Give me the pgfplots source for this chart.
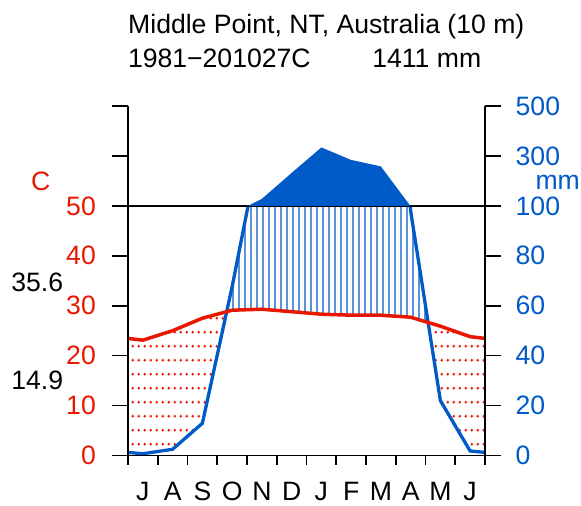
\documentclass[border=0pt]{standalone}
\usepackage{fontspec}
\setmainfont{Liberation Sans}
\usepackage{pgfplots}
\usepackage{pgfplotstable}
\pgfplotsset{compat=1.18}
\usepgfplotslibrary{fillbetween}
\usetikzlibrary{patterns}
\definecolor{tcol}{HTML}{E81800}
\definecolor{pcol}{HTML}{005AC8}
\newcommand\cf{\fontsize{26.7}{31}\selectfont}

\pgfdeclarepatternformonly{wethatch}{\pgfqpoint{0bp}{0bp}}{\pgfqpoint{5.92bp}{10bp}}{\pgfqpoint{5.92bp}{10bp}}{%
  \pgfsetlinewidth{1.3bp}%
  \pgfpathmoveto{\pgfqpoint{2.96bp}{-1bp}}%
  \pgfpathlineto{\pgfqpoint{2.96bp}{11bp}}%
  \pgfusepath{stroke}}
\pgfdeclarepatternformonly{drydots}{\pgfqpoint{0bp}{0bp}}{\pgfqpoint{6.2bp}{13.8bp}}{\pgfqpoint{6.2bp}{13.8bp}}{%
  \pgfpathcircle{\pgfqpoint{3.1bp}{6.9bp}}{1.5bp}%
  \pgfusepath{fill}}

% x: month position (Jul..Jun), t: mean temperature (C), p: precipitation (mm)
\pgfplotstableread{
x     t      p
0     23.45  1.25
0.5   23.1   0.7
1.5   25.0   2.5
2.5   27.5   12.9
3.5   29.1   67.6
4.5   29.3   128
5.5   28.8   232
6.5   28.3   334
7.5   28.1   284
8.5   28.1   258
9.5   27.7   98
10.5  25.9   22
11.5  23.8   1.8
12    23.45  1.25
}\climdata

\begin{document}
\begin{tikzpicture}
\pgfplotsset{base/.style={scale only axis, width=357bp, height=349.5bp,
  at={(128bp,50.5bp)}, anchor=south west,
  xmin=0, xmax=12, ymin=0, ymax=70, tick align=outside,
  axis line style={line width=1.6bp, -},
  tick style={black, line width=1.6bp},
  tick label style={font=\cf}}}

% dry / wet areas and curves
\begin{axis}[base, hide axis]
  \addplot[draw=none, name path=T, forget plot] table[x=x, y=t] {\climdata};
  \addplot[draw=none, name path=P, forget plot] table[x=x, y expr=\thisrow{p}/2] {\climdata};
  \addplot fill between[of=T and P, split,
     every segment no 0/.style={pattern=drydots, pattern color=tcol},
     every segment no 1/.style={pattern=wethatch, pattern color=pcol},
     every segment no 2/.style={pattern=drydots, pattern color=tcol}];
  \addplot[pcol, line width=3.3bp] table[x=x, y expr=\thisrow{p}/2] {\climdata};
  \addplot[fill=white, draw=none] coordinates {(0,50) (12,50) (12,72) (0,72)} -- cycle;
  \addplot[black, line width=1.6bp] coordinates {(0,50) (12,50)};
  \addplot[tcol, line width=3.5bp] table[x=x, y=t] {\climdata};
\end{axis}

% precipitation above 100 mm on the compressed scale: an axis covering only 50..70
\begin{axis}[scale only axis, width=357bp, height=99.857bp,
  at={(128bp,300.143bp)}, anchor=south west,
  xmin=0, xmax=12, ymin=50, ymax=70, hide axis, clip=true]
  \addplot[fill=pcol, draw=none] table[x=x, y expr=50+(\thisrow{p}-100)/20] {\climdata} \closedcycle;
\end{axis}

% left temperature axis
\begin{axis}[base, hide x axis, axis y line*=left, major tick length=16bp,
  ytick={0,10,...,70}, yticklabels={0,10,20,30,40,50,{},{}},
  yticklabel style={text=tcol, anchor=east, inner sep=0pt, xshift=-16bp}]
\end{axis}

% right precipitation axis
\begin{axis}[base, hide x axis, axis y line*=right, major tick length=16bp,
  ytick={0,10,...,70}, yticklabels={0,20,40,60,80,100,300,500},
  yticklabel style={text=pcol, anchor=west, inner sep=0pt, xshift=14.5bp}]
\end{axis}

% bottom axis line and month ticks
\begin{axis}[base, hide y axis, axis x line*=bottom, major tick length=9bp,
  xtick={0,...,12}, xticklabels={}]
\end{axis}

% month labels
\begin{axis}[base, hide y axis, axis x line*=bottom, x axis line style={draw=none},
  major tick length=0pt, tick style={draw=none},
  xtick={0.5,1.5,...,11.5}, xticklabels={J,A,S,O,N,D,J,F,M,A,M,J},
  xticklabel style={anchor=base, inner sep=0pt, yshift=-45bp}]
\end{axis}

\node[font=\cf, anchor=base west, inner sep=0pt] at (128bp,472.7bp) {Middle Point, NT, Australia (10 m)};
\node[font=\cf, anchor=base west, inner sep=0pt] at (127.8bp,438.3bp) {1981−201027C};
\node[font=\cf, anchor=base west, inner sep=0pt] at (372.1bp,438.3bp) {1411 mm};
\node[font=\cf, text=tcol, anchor=base, inner sep=0pt] at (40.8bp,315.3bp) {C};
\node[font=\cf, text=pcol, anchor=base west, inner sep=0pt] at (535.3bp,316bp) {mm};
\node[font=\cf, anchor=base east, inner sep=0pt] at (63.3bp,214.3bp) {35.6};
\node[font=\cf, anchor=base east, inner sep=0pt] at (63.3bp,116bp) {14.9};
\pgfresetboundingbox
\path[use as bounding box] (0,0) rectangle (581bp,506bp);
\end{tikzpicture}
\end{document}
